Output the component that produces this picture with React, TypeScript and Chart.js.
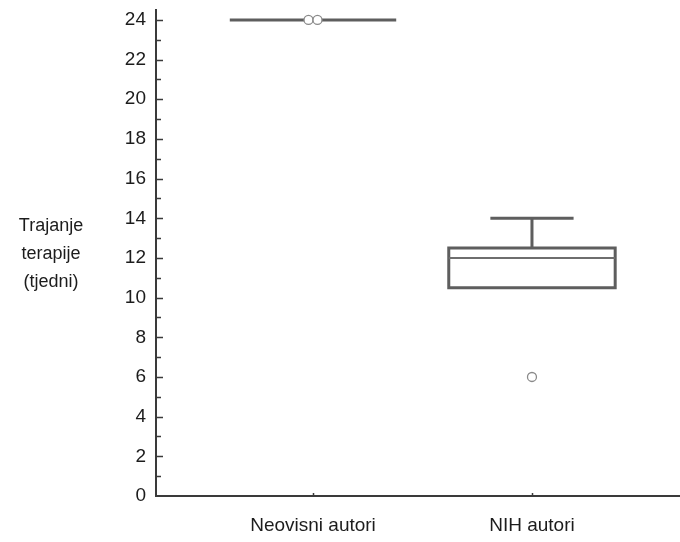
import React, { useEffect, useRef } from "react";
import { Chart, registerables } from "chart.js";

Chart.register(...registerables);

// ---- data ----
const categories = ["Neovisni autori", "NIH autori"];
const whiskerLow = [24, 10.5];
const q1Values = [24, 10.5];
const medianValues = [24, 12];
const q3Values = [24, 12.5];
const whiskerHigh = [24, 14];
const outlierValues: number[][] = [[24, 24], [6]];
const yTicks = [0, 2, 4, 6, 8, 10, 12, 14, 16, 18, 20, 22, 24];
const yTitleLines = ["Trajanje", "terapije", "(tjedni)"];

// ---- style ----
const BOX_WIDTH = 0.76; // in category units
const CAP_WIDTH = 0.38;
const BOX_COLOR = "#5e5e5e";
const MEDIAN_COLOR = "#6e6e6e";
const AXIS_COLOR = "#3a3a3a";
const TEXT_COLOR = "#1c1c1c";
const OUTLIER_R = 4.5;
const FONT = "'Liberation Sans', Arial, sans-serif";

const boxPlugin = {
  id: "boxPlugin",
  afterDatasetsDraw(chart: any) {
    const { ctx, scales, chartArea } = chart;
    const xs = scales.x;
    const ys = scales.y;
    ctx.save();
    categories.forEach((_, i) => {
      const cx = xs.getPixelForValue(i + 1);
      const half = xs.getPixelForValue(i + 1 + BOX_WIDTH / 2) - cx;
      const capHalf = xs.getPixelForValue(i + 1 + CAP_WIDTH / 2) - cx;
      const yLow = ys.getPixelForValue(whiskerLow[i]);
      const yQ1 = ys.getPixelForValue(q1Values[i]);
      const yMed = ys.getPixelForValue(medianValues[i]);
      const yQ3 = ys.getPixelForValue(q3Values[i]);
      const yHigh = ys.getPixelForValue(whiskerHigh[i]);

      ctx.strokeStyle = BOX_COLOR;
      ctx.lineWidth = 3;
      ctx.lineCap = "butt";
      // whiskers + caps
      ctx.beginPath();
      if (whiskerHigh[i] > q3Values[i]) {
        ctx.moveTo(cx, yQ3);
        ctx.lineTo(cx, yHigh);
        ctx.moveTo(cx - capHalf, yHigh);
        ctx.lineTo(cx + capHalf, yHigh);
      }
      if (whiskerLow[i] < q1Values[i]) {
        ctx.moveTo(cx, yQ1);
        ctx.lineTo(cx, yLow);
        ctx.moveTo(cx - capHalf, yLow);
        ctx.lineTo(cx + capHalf, yLow);
      }
      ctx.stroke();
      // box
      ctx.beginPath();
      if (Math.abs(yQ1 - yQ3) < 0.5) {
        ctx.moveTo(cx - half, yQ3);
        ctx.lineTo(cx + half, yQ3);
      } else {
        ctx.rect(cx - half, yQ3, half * 2, yQ1 - yQ3);
      }
      ctx.stroke();
      // median
      if (Math.abs(yQ1 - yQ3) >= 0.5) {
        ctx.strokeStyle = MEDIAN_COLOR;
        ctx.lineWidth = 2;
        ctx.beginPath();
        ctx.moveTo(cx - half, yMed);
        ctx.lineTo(cx + half, yMed);
        ctx.stroke();
      }
      // outliers
      const list = outlierValues[i];
      list.forEach((v, k) => {
        const same = list.filter((w) => w === v);
        const idx = list.slice(0, k).filter((w) => w === v).length;
        const off = (idx - (same.length - 1) / 2) * OUTLIER_R * 2;
        ctx.beginPath();
        ctx.arc(cx + off, ys.getPixelForValue(v), OUTLIER_R, 0, Math.PI * 2);
        ctx.fillStyle = "#ffffff";
        ctx.fill();
        ctx.strokeStyle = "#8a8a8a";
        ctx.lineWidth = 1.3;
        ctx.stroke();
      });
    });

    // inward ticks on y axis
    ctx.strokeStyle = AXIS_COLOR;
    ctx.lineWidth = 1.5;
    ctx.beginPath();
    yTicks.forEach((t, k) => {
      const py = Math.round(ys.getPixelForValue(t)) + 0.5;
      if (k > 0) {
        ctx.moveTo(chartArea.left, py);
        ctx.lineTo(chartArea.left + 7, py);
      }
      if (k < yTicks.length - 1) {
        const m = (t + yTicks[k + 1]) / 2;
        const pm = Math.round(ys.getPixelForValue(m)) + 0.5;
        ctx.moveTo(chartArea.left, pm);
        ctx.lineTo(chartArea.left + 5, pm);
      }
    });
    // small ticks on x axis at categories
    categories.forEach((_, i) => {
      const px = Math.round(xs.getPixelForValue(i + 1)) + 0.5;
      ctx.moveTo(px, chartArea.bottom);
      ctx.lineTo(px, chartArea.bottom - 3);
    });
    ctx.stroke();

    // y axis title (horizontal, three lines)
    ctx.fillStyle = TEXT_COLOR;
    ctx.font = "18px " + FONT;
    ctx.textAlign = "center";
    ctx.textBaseline = "middle";
    const midY = (chartArea.top + chartArea.bottom) / 2 + 1;
    const lh = 28;
    yTitleLines.forEach((line, k) => {
      ctx.fillText(line, 51, midY + (k - (yTitleLines.length - 1) / 2) * lh);
    });
    ctx.restore();
  },
};

export default function App() {
  const canvasRef = useRef<HTMLCanvasElement | null>(null);

  useEffect(() => {
    document.body.style.margin = "0";
    const canvas = canvasRef.current;
    if (!canvas) return;
    const chart = new Chart(canvas, {
      type: "scatter",
      data: {
        datasets: [
          {
            data: medianValues.map((m, i) => ({ x: i + 1, y: m })),
            pointRadius: 0,
            showLine: false,
          },
        ],
      },
      options: {
        animation: false,
        responsive: true,
        maintainAspectRatio: false,
        layout: { padding: { top: 10, left: 0, right: 0, bottom: 0 } },
        plugins: {
          legend: { display: false },
          tooltip: { enabled: false },
        },
        scales: {
          x: {
            type: "linear",
            min: 0.283,
            max: 2.676,
            grid: { display: false, drawTicks: false },
            border: { display: true, color: AXIS_COLOR, width: 2 },
            afterBuildTicks: (scale: any) => {
              scale.ticks = categories.map((_, i) => ({ value: i + 1 }));
            },
            afterFit: (scale: any) => {
              scale.height = 46;
              scale.paddingLeft = 0;
              scale.paddingRight = 0;
            },
            ticks: {
              autoSkip: false,
              maxRotation: 0,
              padding: 18,
              color: TEXT_COLOR,
              font: { size: 19, family: FONT },
              callback: (v: any) => categories[Math.round(Number(v)) - 1] ?? "",
            },
          },
          y: {
            type: "linear",
            min: 0,
            max: 24.5,
            grid: { display: false, drawTicks: false },
            border: { display: true, color: AXIS_COLOR, width: 2 },
            afterBuildTicks: (scale: any) => {
              scale.ticks = yTicks.map((v) => ({ value: v }));
            },
            afterFit: (scale: any) => {
              scale.width = 156;
              scale.paddingTop = 0;
              scale.paddingBottom = 0;
            },
            ticks: {
              padding: 10,
              color: TEXT_COLOR,
              font: { size: 19, family: FONT },
              callback: (v: any) => String(v),
            },
          },
        },
      },
      plugins: [boxPlugin],
    } as any);
    return () => chart.destroy();
  }, []);

  return (
    <div style={{ position: "absolute", left: 0, top: 0, width: 680, height: 542, background: "#fff" }}>
      <canvas ref={canvasRef} />
    </div>
  );
}
